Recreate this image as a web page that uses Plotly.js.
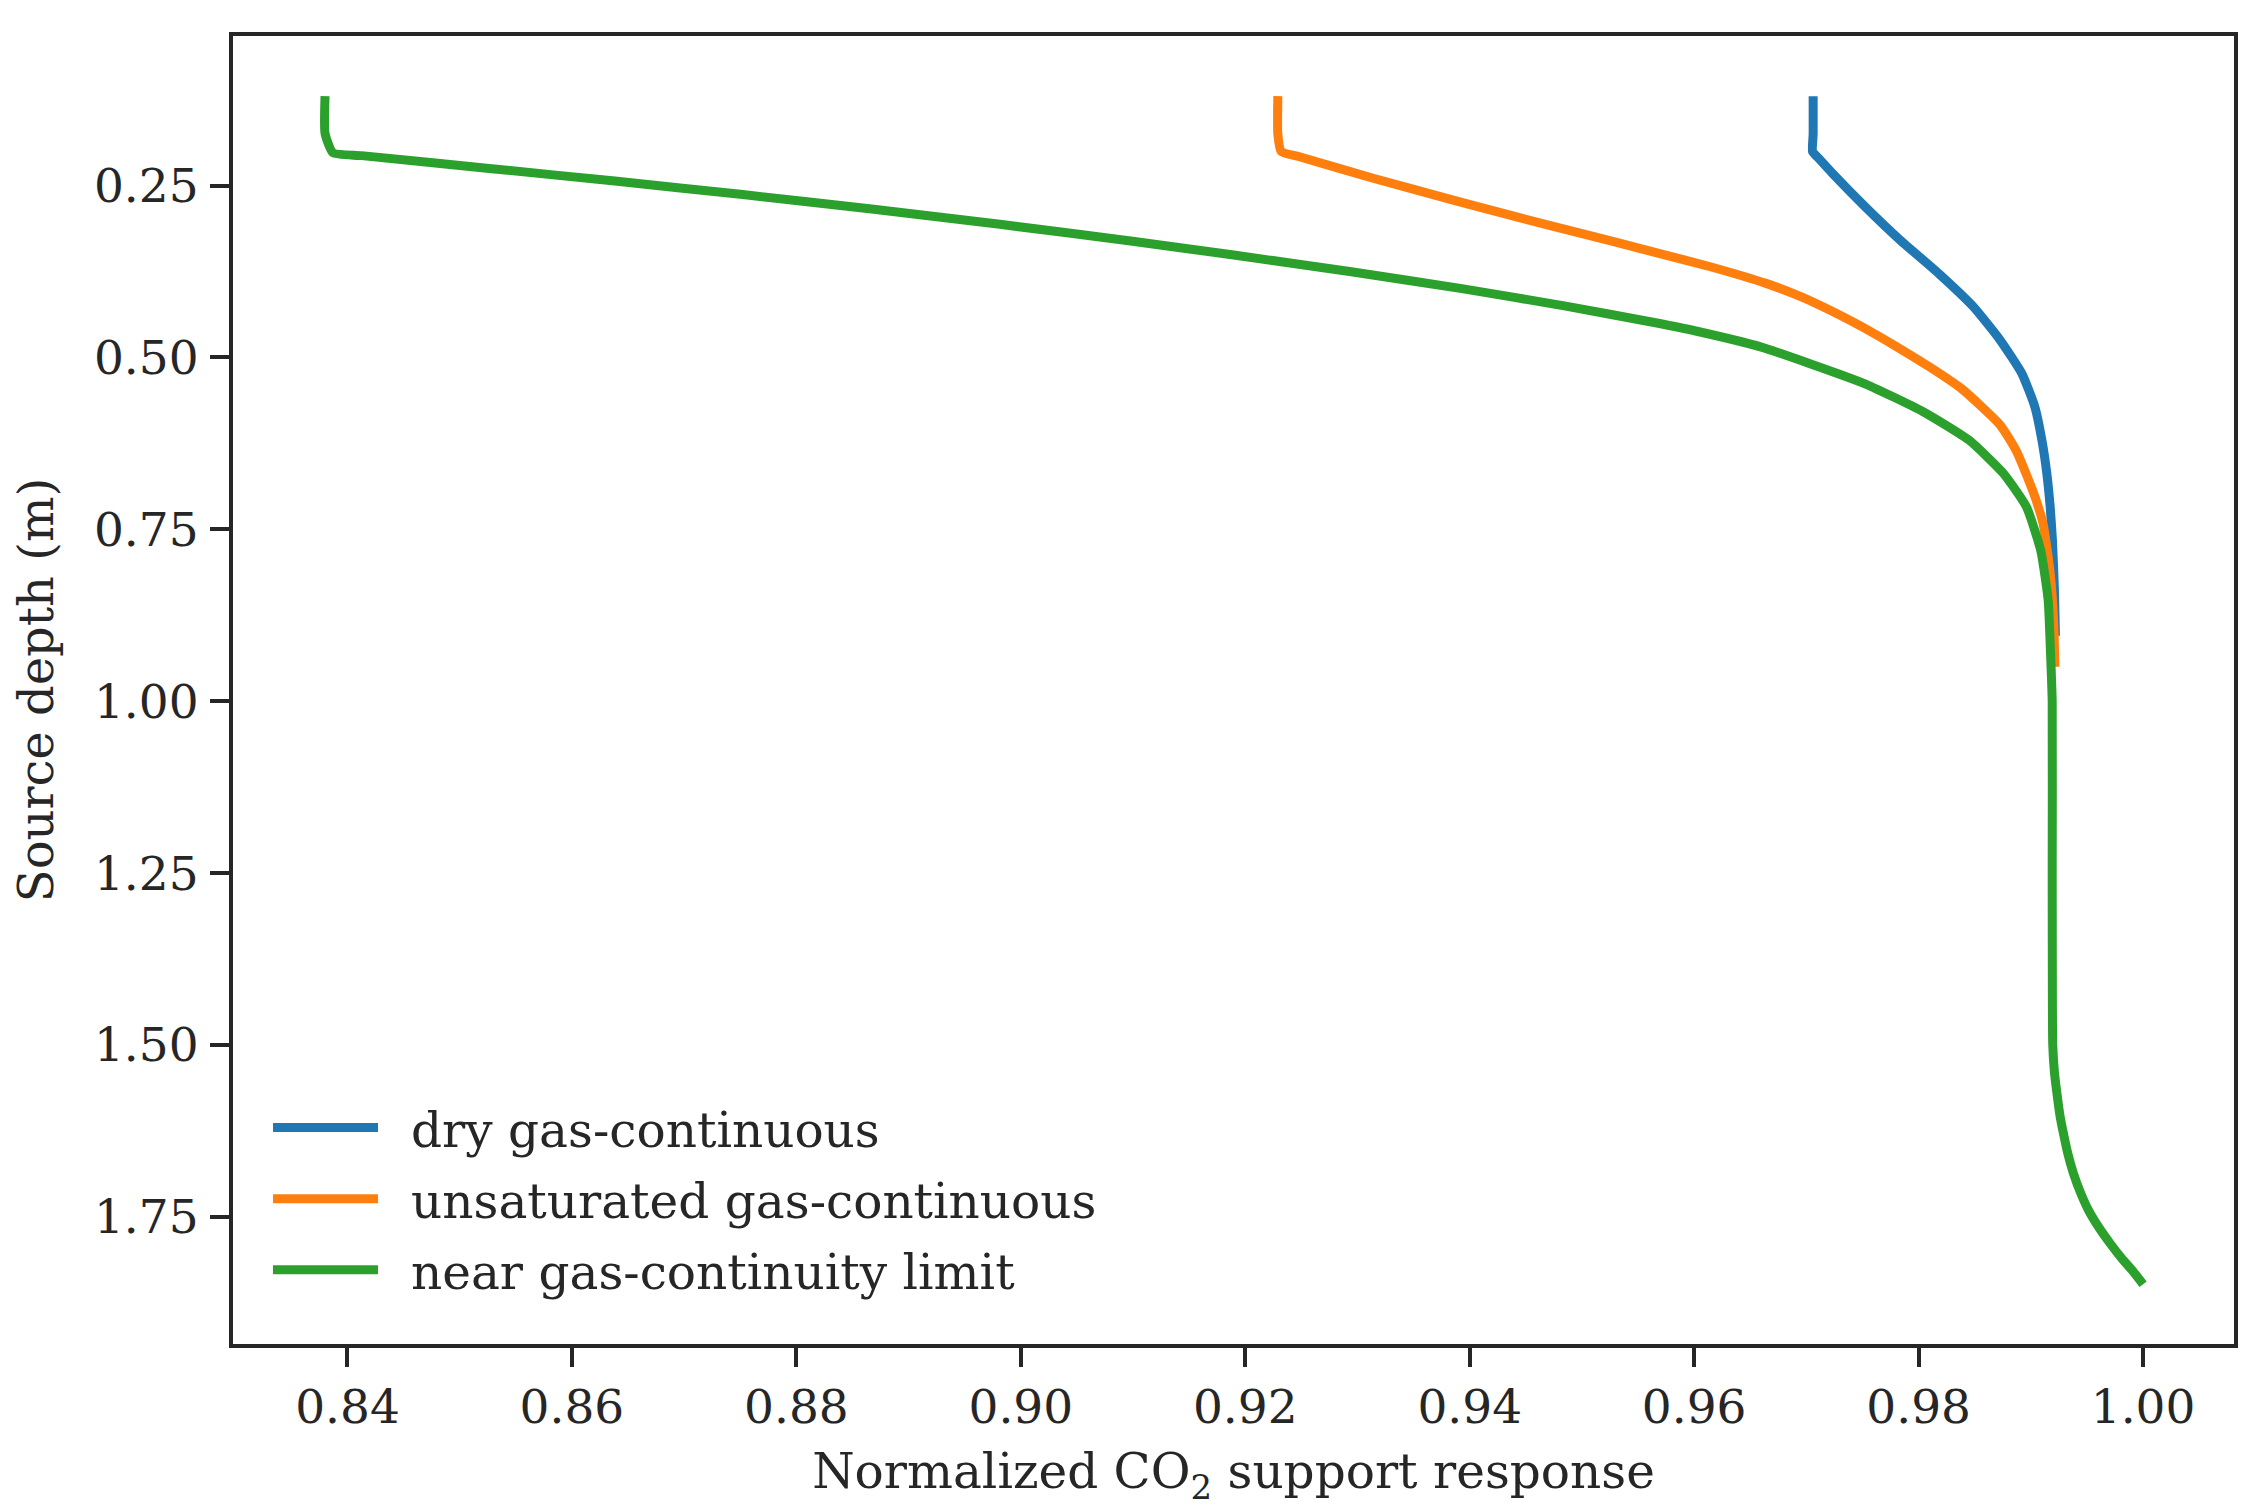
<!DOCTYPE html>
<html>
<head>
<meta charset="utf-8">
<script src="https://cdn.plot.ly/plotly-3.0.1.min.js"></script>
<style>
  html, body { margin: 0; padding: 0; background: #ffffff; }
  #chart { width: 2256px; height: 1510px; }
</style>
</head>
<body>
<div id="chart"></div>
<script>
// ---- Data ----
const seriesNames = ["dry gas-continuous", "unsaturated gas-continuous", "near gas-continuity limit"];

const dryDepth = [0.12, 0.175, 0.2008, 0.2085, 0.2323, 0.2808, 0.3293, 0.3777, 0.4263, 0.4747, 0.5232, 0.5717, 0.6202, 0.6686, 0.7172, 0.7656, 0.8384, 0.905];
const dryResp  = [0.9706, 0.9706, 0.97055, 0.97098, 0.97232, 0.97523, 0.97835, 0.98177, 0.98488, 0.98726, 0.98919, 0.99035, 0.99098, 0.99142, 0.99172, 0.99192, 0.9921, 0.99219];

const unsatDepth = [0.12, 0.175, 0.2004, 0.2085, 0.2394, 0.2711, 0.2953, 0.3196, 0.3438, 0.3681, 0.3923, 0.4117, 0.4359, 0.4650, 0.4835, 0.5126, 0.5465, 0.5984, 0.6372, 0.6977, 0.7414, 0.8093, 0.8868, 0.95];
const unsatResp  = [0.9229, 0.9229, 0.9232, 0.9249, 0.93139, 0.93852, 0.94409, 0.94992, 0.95573, 0.96144, 0.9664, 0.9695, 0.97265, 0.976, 0.97794, 0.98085, 0.9839, 0.98727, 0.98874, 0.99025, 0.99108, 0.99169, 0.99204, 0.99214];

const nearDepth = [0.12, 0.174, 0.2023, 0.2065, 0.2255, 0.2435, 0.2628, 0.2846, 0.3064, 0.3307, 0.3511, 0.375, 0.40, 0.425, 0.45, 0.4612, 0.485, 0.5087, 0.5387, 0.579, 0.6202, 0.6686, 0.7172, 0.7802, 0.8529, 0.9256, 1.00, 1.25, 1.45, 1.50, 1.54, 1.5801, 1.6045, 1.6287, 1.6578, 1.6868, 1.7159, 1.7402, 1.7645, 1.7886, 1.8105, 1.8300, 1.848];
const nearResp  = [0.8380, 0.8380, 0.8387, 0.84126, 0.85285, 0.86383, 0.87502, 0.8869, 0.89813, 0.90979, 0.91897, 0.9293, 0.9393, 0.94843, 0.95668, 0.96004, 0.96599, 0.97026, 0.97528, 0.9804, 0.98448, 0.98755, 0.9896, 0.99087, 0.99154, 0.99174, 0.9919, 0.9919, 0.99192, 0.99195, 0.9921, 0.9924, 0.99261, 0.9929, 0.99329, 0.99379, 0.99445, 0.99513, 0.99602, 0.99706, 0.9981, 0.99914, 1.0];

const xTicks = [0.84, 0.86, 0.88, 0.90, 0.92, 0.94, 0.96, 0.98, 1.00];
const yTicks = [0.25, 0.50, 0.75, 1.00, 1.25, 1.50, 1.75];

// ---- Styling ----
const colors = ["#1f77b4", "#ff7f0e", "#2ca02c"];
const ink = "#262626";
const fontFam = "DejaVu Serif, serif";

const xs = [dryResp, unsatResp, nearResp];
const ys = [dryDepth, unsatDepth, nearDepth];

const traces = seriesNames.map((name, i) => ({
  type: "scatter",
  mode: "lines",
  name: name,
  legendgroup: "g" + i,
  x: xs[i],
  y: ys[i],
  line: { color: colors[i], width: 9, shape: "spline", smoothing: 0.5 },
  hoverinfo: "x+y+name"
}));

const layout = {
  width: 2256,
  height: 1510,
  paper_bgcolor: "#ffffff",
  plot_bgcolor: "#ffffff",
  margin: { l: 233, r: 22, t: 36, b: 166, pad: 0 },
  font: { family: fontFam, size: 47, color: ink },
  showlegend: true,
  legend: {
    x: 0.0175, y: 0.1945, xanchor: "left", yanchor: "top",
    bgcolor: "rgba(255,255,255,0)",
    borderwidth: 0,
    font: { family: fontFam, size: 48.5, color: ink },
    traceorder: "grouped",
    tracegroupgap: 5,
    itemwidth: 133
  },
  xaxis: {
    range: [0.8298, 1.0081],
    tickvals: xTicks,
    ticktext: xTicks.map(v => v.toFixed(2)),
    ticks: "outside", ticklen: 19, tickwidth: 4, tickcolor: ink,
    showline: true, linewidth: 4, linecolor: ink, mirror: true,
    showgrid: false, zeroline: false,
    tickfont: { family: fontFam, size: 47, color: ink },
    ticklabelstandoff: 0,
    title: { text: "Normalized CO<sub>2</sub> support response", font: { family: fontFam, size: 48.5, color: ink }, standoff: 22 }
  },
  yaxis: {
    range: [1.935, 0.0325],
    tickvals: yTicks,
    ticktext: yTicks.map(v => v.toFixed(2)),
    ticks: "outside", ticklen: 19, tickwidth: 4, tickcolor: ink,
    showline: true, linewidth: 4, linecolor: ink, mirror: true,
    showgrid: false, zeroline: false,
    tickfont: { family: fontFam, size: 47, color: ink },
    ticklabelstandoff: 2,
    title: { text: "Source depth (m)", font: { family: fontFam, size: 48, color: ink }, standoff: 26 }
  }
};

function stretchLegendKeys() {
  // lengthen the legend key lines to match the reference's longer handles
  document.querySelectorAll("#chart .legendlines path").forEach(p => {
    p.setAttribute("d", "M5,0h105");
  });
}

const gd = document.getElementById("chart");
Plotly.newPlot(gd, traces, layout, { displayModeBar: false, responsive: false })
  .then(() => {
    stretchLegendKeys();
    gd.on("plotly_afterplot", stretchLegendKeys);
  });
</script>
</body>
</html>
